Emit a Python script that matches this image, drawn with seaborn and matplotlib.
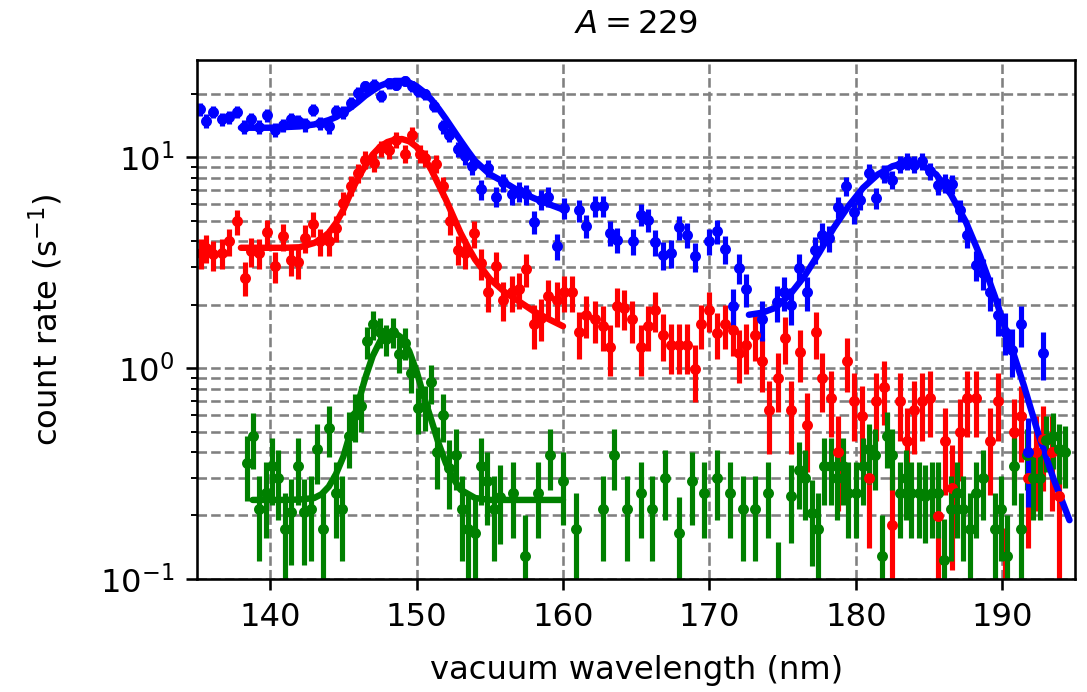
import matplotlib
matplotlib.use("Agg")
import matplotlib.pyplot as plt
import seaborn as sns

# ---------------- data ----------------
blue_x = [135.2, 135.6, 136.1, 136.7, 137.2, 137.7, 138.2, 138.7, 139.2, 139.8, 140.3,
          140.9, 141.4, 141.9, 142.4, 142.9, 143.4, 144.0,
          144.5, 145.0, 145.5, 146.0, 146.5, 147.1, 147.6, 148.1, 148.6, 149.2,
          149.7, 150.1, 150.6, 151.2, 151.8, 152.2, 152.8, 153.3,
          153.8, 154.4, 154.9, 155.4, 155.9, 156.5, 157.0, 157.5, 158.0, 158.5, 159.0, 159.6, 160.1,
          161.1, 161.6, 162.2, 162.7, 163.2, 163.7,
          164.8, 165.3, 165.8, 166.3, 166.8, 167.4, 167.9, 168.5, 169.0,
          170.0, 170.5, 171.1, 171.6, 172.0, 172.5, 173.6,
          174.6, 175.1, 175.6, 176.1, 176.7, 177.2, 177.7, 178.2, 178.8, 179.3,
          179.9, 180.3, 180.9, 181.4, 181.9, 182.5, 183.0, 183.5, 184.0, 184.5,
          185.1, 185.6, 186.1, 186.6, 187.1, 187.6, 188.2, 188.7, 189.2, 189.7,
          190.2, 190.7, 191.3, 191.8, 192.8]
blue_y = [16.9, 14.9, 16.4, 15.2, 15.5, 16.4, 13.9, 15.2, 13.9, 15.8, 13.5,
          14.2, 15.1, 14.8, 14.3, 16.8, 14.5, 14.0,
          16.5, 16.3, 18.1, 20.2, 21.7, 22.1, 19.5, 22.5, 22.1, 23.0,
          21.8, 20.6, 19.9, 17.5, 14.0, 12.8, 10.9, 10.1,
          9.06, 7.03, 8.85, 6.5, 7.6, 6.66, 6.9, 6.66, 4.94, 6.3, 6.5, 3.78, 5.75,
          5.6, 4.73, 5.86, 5.86, 4.38, 4.06,
          3.99, 5.35, 5.06, 3.95, 3.45, 3.51, 4.67, 4.30, 3.39,
          3.99, 4.46, 3.67, 1.98, 2.98, 2.37, 1.71,
          2.05, 2.29, 2.0, 2.99, 2.29, 3.65, 4.30, 4.14, 5.81, 7.34,
          5.48, 6.3, 8.43, 6.41, 8.34, 7.84, 9.23, 9.58, 9.23, 9.58,
          8.58, 7.41, 7.55, 7.48, 5.6, 4.30, 3.09, 2.82, 2.29, 1.79,
          1.49, 1.22, 1.62, 0.40, 1.18]
blue_err = [1.15, 1.08, 1.13, 1.09, 1.1, 1.13, 1.04, 1.09, 1.04, 1.11, 1.03,
            1.05, 1.09, 1.08, 1.06, 1.15, 1.07, 1.05,
            1.14, 1.13, 1.19, 1.26, 1.3, 1.32, 1.24, 1.33, 1.32, 1.34,
            1.31, 1.27, 1.25, 1.17, 1.05, 1.0, 0.92, 0.89,
            0.84, 0.74, 0.83, 0.71, 0.77, 0.72, 0.74, 0.72, 0.62, 0.7, 0.71, 0.54, 0.67,
            0.66, 0.61, 0.68, 0.68, 0.59, 0.56,
            0.56, 0.65, 0.63, 0.56, 0.52, 0.52, 0.6, 0.58, 0.52,
            0.56, 0.59, 0.54, 0.39, 0.48, 0.43, 0.37,
            0.4, 0.42, 0.4, 0.48, 0.42, 0.53, 0.58, 0.57, 0.67, 0.76,
            0.66, 0.7, 0.81, 0.71, 0.81, 0.78, 0.85, 0.87, 0.85, 0.87,
            0.82, 0.76, 0.77, 0.77, 0.66, 0.58, 0.49, 0.47, 0.42, 0.37,
            0.34, 0.31, 0.36, 0.18, 0.3]

red_x = [135.3, 135.6, 136.1, 136.7, 137.2, 137.7, 138.3, 138.7, 139.2, 139.8,
         140.3, 140.9, 141.4, 141.9, 142.4, 142.9, 143.4, 144.0, 144.5, 145.0,
         145.5, 146.0, 146.5, 147.1, 147.6, 148.1, 148.6, 149.2, 149.7, 150.2,
         150.6, 151.3, 151.8, 152.3, 152.8, 153.3, 153.9, 154.4, 154.9, 155.4,
         155.9, 156.5, 157.0, 157.5, 158.0, 158.5, 159.0, 159.6, 160.1, 160.6,
         161.1, 161.6, 162.2, 162.7, 163.2, 163.7, 164.2, 164.7, 165.3, 165.8,
         166.3, 166.8, 167.4, 167.9, 168.5, 169.0, 169.4, 170.0, 170.5, 171.1,
         171.6, 172.0, 172.5, 173.1, 173.6, 174.1, 174.7, 175.2, 175.6, 176.2,
         176.7, 177.3, 177.7, 178.3, 178.8, 179.4, 179.9, 180.4, 180.9, 181.4,
         181.9, 182.5, 183.0, 183.5, 184.0, 184.5, 185.1, 185.6, 186.1, 186.6,
         187.1, 187.6, 188.2, 189.2, 189.7, 190.2, 190.8, 191.3, 191.8, 192.3,
         192.8, 193.4, 193.9]
red_y = [3.52, 3.72, 3.46, 3.52, 3.99, 4.97, 2.68, 3.58, 3.52, 4.41,
         3.04, 4.22, 3.27, 3.18, 4.14, 4.84, 3.99, 3.99, 4.62, 6.07,
         7.34, 8.43, 9.75, 9.4, 11.0, 10.8, 12.1, 10.4, 12.8, 10.4,
         9.93, 9.33, 7.28, 4.97, 3.65, 3.52, 4.35, 3.15, 2.29, 3.04,
         2.11, 2.29, 2.36, 2.95, 1.61, 1.73, 2.19, 2.11, 2.29, 2.29,
         1.48, 1.79, 1.70, 1.58, 1.26, 1.98, 1.93, 1.70, 1.26, 1.59,
         1.89, 1.44, 1.28, 1.28, 1.28, 0.99, 1.61, 1.89, 1.47, 1.61,
         1.51, 1.18, 1.28, 1.44, 1.08, 0.63, 0.90, 1.39, 0.63, 1.19,
         0.54, 1.48, 0.90, 0.72, 0.40, 1.08, 0.70, 0.59, 0.30, 0.70,
         0.81, 0.18, 0.70, 0.45, 0.63, 0.70, 0.72, 0.198, 0.45, 0.27,
         0.50, 0.72, 0.72, 0.45, 0.70, 0.085, 0.50, 0.59, 0.30, 0.40,
         0.46, 0.40, 0.248]
red_err = [0.56, 0.58, 0.56, 0.56, 0.6, 0.67, 0.49, 0.57, 0.56, 0.63,
           0.52, 0.62, 0.54, 0.53, 0.61, 0.66, 0.6, 0.6, 0.64, 0.74,
           0.81, 0.87, 0.94, 0.92, 0.99, 0.99, 1.04, 0.97, 1.07, 0.97,
           0.95, 0.92, 0.81, 0.67, 0.57, 0.56, 0.63, 0.53, 0.45, 0.52,
           0.44, 0.45, 0.46, 0.52, 0.38, 0.39, 0.44, 0.44, 0.45, 0.45,
           0.37, 0.4, 0.39, 0.38, 0.34, 0.42, 0.42, 0.39, 0.34, 0.38,
           0.41, 0.36, 0.34, 0.34, 0.34, 0.3, 0.38, 0.41, 0.36, 0.38,
           0.37, 0.33, 0.34, 0.36, 0.31, 0.24, 0.28, 0.35, 0.24, 0.33,
           0.22, 0.37, 0.28, 0.25, 0.19, 0.31, 0.25, 0.23, 0.16, 0.25,
           0.27, 0.13, 0.25, 0.2, 0.24, 0.25, 0.25, 0.13, 0.2, 0.16,
           0.21, 0.25, 0.25, 0.2, 0.25, 0.09, 0.21, 0.23, 0.16, 0.19,
           0.2, 0.19, 0.15]

green_x = [138.4, 138.8, 139.2, 139.7, 140.1, 140.5, 141.0, 141.4, 141.9, 142.3,
           142.8, 143.2, 143.6, 144.0, 144.5, 144.9, 145.4, 145.8, 146.2, 146.6,
           147.0, 147.5, 147.9, 148.4, 148.8, 149.2, 149.6, 150.1, 150.6, 151.0,
           151.4, 151.8, 152.2, 152.7, 153.1, 153.5, 154.0, 154.4, 154.8, 155.3,
           155.7, 156.6, 157.4, 158.3, 159.1, 160.0, 160.9, 162.7, 163.5, 164.4,
           165.3, 166.1, 167.0, 167.9, 168.8, 169.6, 170.5, 171.4, 172.3, 173.1,
           174.0, 174.7, 175.6, 176.1, 176.5, 177.0, 177.4, 177.8, 178.3, 178.7,
           179.1, 179.5, 180.0, 180.5, 180.9, 181.3, 181.8, 182.1, 182.5, 183.0,
           183.4, 183.8, 184.3, 184.7, 185.2, 185.6, 186.0, 186.5, 186.9, 187.3,
           187.8, 188.2, 188.7, 189.5, 189.9, 190.3, 190.8, 191.3, 191.7, 192.1,
           192.6, 193.0, 193.5, 193.9, 194.3]
green_y = [0.354, 0.474, 0.214, 0.257, 0.344, 0.301, 0.172, 0.207, 0.344, 0.207,
           0.214, 0.413, 0.172, 0.519, 0.257, 0.214, 0.477, 0.60, 0.658, 1.34,
           1.61, 1.49, 1.37, 1.49, 1.17, 1.32, 0.95, 0.645, 0.663, 0.855,
           0.398, 0.60, 0.335, 0.388, 0.214, 0.172, 0.165, 0.344, 0.290, 0.214,
           0.246, 0.257, 0.128, 0.257, 0.388, 0.290, 0.172, 0.214, 0.388, 0.214,
           0.257, 0.214, 0.301, 0.165, 0.290, 0.257, 0.301, 0.257, 0.214, 0.214,
           0.257, 0.09, 0.248, 0.33, 0.301, 0.205, 0.172, 0.344, 0.344, 0.301,
           0.344, 0.257, 0.257, 0.344, 0.413, 0.388, 0.128, 0.477, 0.388, 0.257,
           0.301, 0.257, 0.257, 0.248, 0.257, 0.257, 0.123, 0.214, 0.257, 0.214,
           0.172, 0.257, 0.301, 0.172, 0.214, 0.128, 0.344, 0.172, 0.388, 0.301,
           0.301, 0.457, 0.474, 0.413, 0.40]
green_err = [0.12, 0.14, 0.093, 0.10, 0.12, 0.11, 0.083, 0.091, 0.12, 0.091,
             0.093, 0.13, 0.083, 0.14, 0.10, 0.093, 0.14, 0.155, 0.16, 0.23,
             0.25, 0.24, 0.23, 0.24, 0.22, 0.23, 0.19, 0.16, 0.16, 0.18,
             0.13, 0.155, 0.12, 0.125, 0.093, 0.083, 0.081, 0.12, 0.11, 0.093,
             0.10, 0.10, 0.072, 0.10, 0.125, 0.11, 0.083, 0.093, 0.125, 0.093,
             0.10, 0.093, 0.11, 0.081, 0.11, 0.10, 0.11, 0.10, 0.093, 0.093,
             0.10, 0.06, 0.10, 0.115, 0.11, 0.09, 0.083, 0.12, 0.12, 0.11,
             0.12, 0.10, 0.10, 0.12, 0.13, 0.125, 0.072, 0.14, 0.125, 0.10,
             0.11, 0.10, 0.10, 0.10, 0.10, 0.10, 0.07, 0.093, 0.10, 0.093,
             0.083, 0.10, 0.11, 0.083, 0.093, 0.072, 0.12, 0.083, 0.125, 0.11,
             0.11, 0.135, 0.14, 0.13, 0.13]

# fitted curves
blue_fit1_x = [138.0, 139.0, 140.0, 141.0, 142.0, 143.0, 144.0, 144.5, 145.0, 145.5,
               146.0, 146.5, 147.0, 147.5, 148.0, 148.5, 149.0, 149.5, 150.0, 150.5,
               151.0, 151.5, 152.0, 152.5, 153.0, 153.5, 154.0, 155.0, 156.0, 157.0,
               158.0, 159.0, 160.0]
blue_fit1_y = [13.8, 13.8, 13.8, 13.9, 14.0, 14.3, 15.0, 15.5, 16.3, 17.2,
               18.3, 19.6, 20.7, 21.8, 22.5, 23.0, 23.0, 22.6, 21.7, 20.4,
               18.8, 17.0, 15.2, 13.5, 12.0, 10.7, 9.6, 8.3, 7.6, 6.9,
               6.4, 6.0, 5.65]
blue_fit2_x = [172.7, 173.6, 174.5, 175.5, 176.5, 177.5, 178.5, 179.5, 180.5, 181.5,
               182.5, 183.5, 184.5, 185.5, 186.5, 187.5, 188.5, 189.5, 190.5, 191.5,
               192.5, 193.5, 194.6]
blue_fit2_y = [1.79, 1.83, 1.93, 2.23, 2.73, 3.52, 4.63, 5.86, 7.16, 8.28,
               9.06, 9.47, 9.23, 8.28, 6.65, 4.97, 3.40, 2.19, 1.34, 0.82,
               0.48, 0.30, 0.19]
red_fit_x = [138.0, 139.0, 140.0, 141.0, 142.0, 143.0, 143.5, 144.0, 144.5, 145.0,
             145.5, 146.0, 146.5, 147.0, 147.5, 148.0, 148.5, 149.0, 149.5, 150.0,
             150.5, 151.0, 151.5, 152.0, 152.5, 153.0, 153.5, 154.0, 155.0, 156.0,
             157.0, 158.0, 159.0, 160.0]
red_fit_y = [3.72, 3.72, 3.72, 3.72, 3.74, 3.92, 4.1, 4.38, 4.88, 5.65,
             6.78, 7.98, 9.14, 10.3, 11.2, 11.8, 12.1, 12.2, 11.9, 11.2,
             10.0, 8.73, 7.41, 6.3, 5.25, 4.38, 3.76, 3.27, 2.65, 2.3,
             2.07, 1.86, 1.71, 1.58]
green_fit_x = [138.8, 140.0, 141.0, 142.0, 143.0, 143.5, 144.0, 144.5, 145.0, 145.5,
               146.0, 146.5, 147.0, 147.5, 148.0, 148.5, 149.0, 149.5, 150.0, 150.5,
               151.0, 151.5, 152.0, 152.5, 153.0, 154.0, 155.0, 160.0]
green_fit_y = [0.237, 0.237, 0.237, 0.238, 0.242, 0.252, 0.274, 0.315, 0.381, 0.50,
               0.682, 0.90, 1.14, 1.34, 1.44, 1.47, 1.39, 1.2, 0.965, 0.73,
               0.569, 0.44, 0.354, 0.30, 0.265, 0.242, 0.237, 0.237]

x_ticks = [140, 150, 160, 170, 180, 190]
title_text = "$A = 229$"
x_label = "vacuum wavelength (nm)"
y_label = "count rate (s$^{-1}$)"

# ---------------- styling ----------------
sns.set_style("ticks")
plt.rcParams.update({
    "font.family": ["DejaVu Sans"],
    "font.size": 10,
    "axes.edgecolor": "black",
    "axes.labelcolor": "black",
    "text.color": "black",
    "xtick.color": "black",
    "ytick.color": "black",
    "axes.linewidth": 0.8,
    "xtick.major.size": 3.5, "ytick.major.size": 3.5,
    "xtick.minor.size": 2.0, "ytick.minor.size": 2.0,
    "xtick.major.width": 0.8, "ytick.major.width": 0.8,
    "xtick.minor.width": 0.6, "ytick.minor.width": 0.6,
    "xtick.labelsize": 10, "ytick.labelsize": 10,
    "axes.labelsize": 10, "axes.titlesize": 10,
    "lines.linewidth": 1.5,
    "axes.axisbelow": True,
})

DPI = 232
FIT_LW = 2.0
ERR_LW = 1.6
MS = 4.8

fig = plt.figure(figsize=(1087.3 / DPI, 692.3 / DPI), dpi=DPI)
fig.patch.set_facecolor("white")
ax = fig.add_axes([0.1812, 0.1633, 0.8078, 0.75])
ax.set_facecolor("white")
ax.set_yscale("log")

ax.grid(True, which="major", axis="both", linestyle="--", color="gray", linewidth=0.8)
ax.grid(True, which="minor", axis="y", linestyle="--", color="gray", linewidth=0.8)

ax.errorbar(red_x, red_y, yerr=red_err, fmt=".", color="red", elinewidth=ERR_LW, markersize=MS)
sns.lineplot(x=red_fit_x, y=red_fit_y, color="red", ax=ax, sort=False, estimator=None, linewidth=FIT_LW)
ax.errorbar(green_x, green_y, yerr=green_err, fmt=".", color="green", elinewidth=ERR_LW, markersize=MS)
sns.lineplot(x=green_fit_x, y=green_fit_y, color="green", ax=ax, sort=False, estimator=None, linewidth=FIT_LW)
ax.errorbar(blue_x, blue_y, yerr=blue_err, fmt=".", color="blue", elinewidth=ERR_LW, markersize=MS)
sns.lineplot(x=blue_fit1_x, y=blue_fit1_y, color="blue", ax=ax, sort=False, estimator=None, linewidth=FIT_LW)
sns.lineplot(x=blue_fit2_x, y=blue_fit2_y, color="blue", ax=ax, sort=False, estimator=None, linewidth=FIT_LW)

ax.set_xlim(135, 195)
ax.set_ylim(0.1, 29)
ax.set_xticks(x_ticks)
ax.set_xticklabels([str(t) for t in x_ticks])
ax.set_xlabel(x_label, labelpad=6.8)
ax.set_ylabel(y_label, labelpad=11)
ax.set_title(title_text, pad=8.5)
for s in ax.spines.values():
    s.set_visible(True)
    s.set_color("black")

fig.savefig("out.png", dpi=DPI, facecolor="white")
